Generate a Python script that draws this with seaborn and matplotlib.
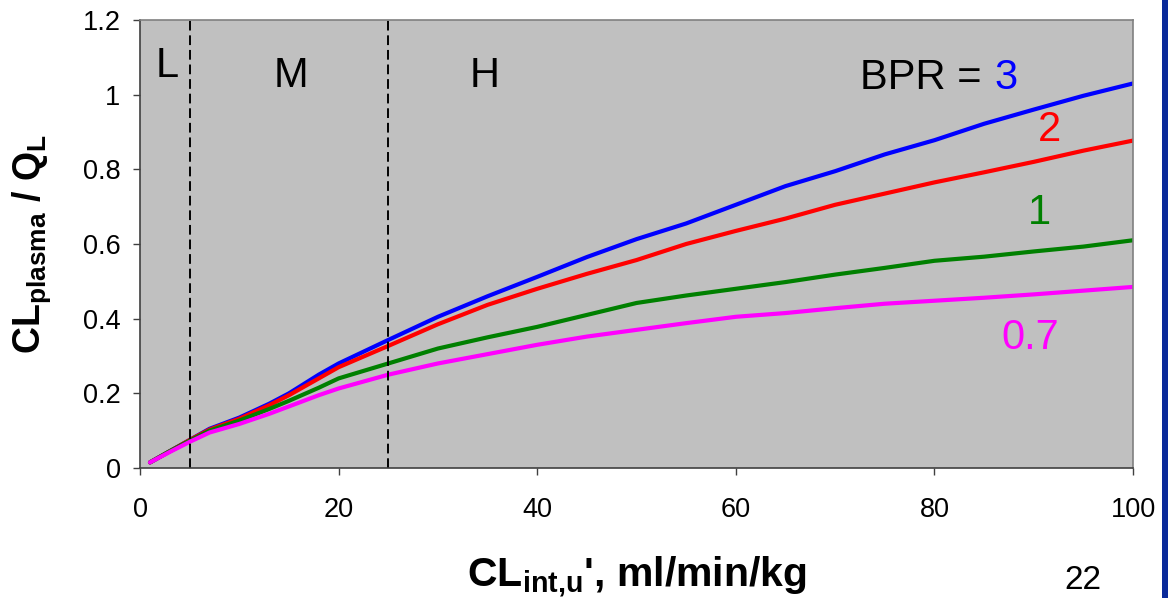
import numpy as np
import pandas as pd
import matplotlib
matplotlib.use("Agg")
import matplotlib.pyplot as plt
import seaborn as sns
from matplotlib.patches import Rectangle

x_vals = [1, 3, 5, 7, 10, 13, 15, 18, 20, 25, 30, 35, 40, 45, 50, 55, 60, 65, 70, 75, 80, 85, 90, 95, 100]
bpr3 = [0.015, 0.045, 0.075, 0.105, 0.135, 0.172, 0.200, 0.250, 0.280, 0.343, 0.405, 0.460, 0.512, 0.565, 0.613, 0.655, 0.705, 0.755, 0.795, 0.840, 0.878, 0.922, 0.960, 0.997, 1.030]
bpr2 = [0.015, 0.045, 0.075, 0.103, 0.132, 0.168, 0.195, 0.240, 0.270, 0.327, 0.385, 0.437, 0.480, 0.520, 0.557, 0.600, 0.635, 0.668, 0.705, 0.735, 0.765, 0.792, 0.820, 0.850, 0.877]
bpr1 = [0.015, 0.045, 0.073, 0.100, 0.127, 0.158, 0.180, 0.215, 0.240, 0.280, 0.320, 0.350, 0.378, 0.410, 0.442, 0.462, 0.480, 0.498, 0.518, 0.536, 0.555, 0.566, 0.580, 0.593, 0.610]
bpr07 = [0.015, 0.043, 0.070, 0.095, 0.118, 0.145, 0.165, 0.195, 0.213, 0.250, 0.280, 0.305, 0.330, 0.352, 0.370, 0.388, 0.405, 0.415, 0.428, 0.440, 0.448, 0.456, 0.465, 0.475, 0.485]
series_names = ["3", "2", "1", "0.7"]
series_colors = ["#0000FF", "#FF0000", "#008000", "#FF00FF"]
x_ticks = [0, 20, 40, 60, 80, 100]
y_ticks = [0, 0.2, 0.4, 0.6, 0.8, 1.0, 1.2]
y_tick_labels = ["0", "0.2", "0.4", "0.6", "0.8", "1", "1.2"]
region_bounds = [5, 25]
region_labels = ["L", "M", "H"]

sns.set_style("white")
plt.rcParams["font.family"] = ["Liberation Sans", "DejaVu Sans"]
plt.rcParams["text.color"] = "black"
plt.rcParams["mathtext.fontset"] = "custom"
plt.rcParams["mathtext.rm"] = "Liberation Sans:bold"
plt.rcParams["mathtext.bf"] = "Liberation Sans:bold"
plt.rcParams["mathtext.it"] = "Liberation Sans:bold"

df = pd.DataFrame({
    "x": x_vals * 4,
    "y": bpr3 + bpr2 + bpr1 + bpr07,
    "BPR": sum([[n] * len(x_vals) for n in series_names], []),
})

fig = plt.figure(figsize=(11.68, 5.98), dpi=100)
ax = fig.add_axes([0.1199, 0.2174, 0.8502, 0.7492])
ax.set_facecolor("#C0C0C0")

sns.lineplot(data=df, x="x", y="y", hue="BPR", hue_order=series_names,
             palette=dict(zip(series_names, series_colors)), linewidth=3,
             legend=False, ax=ax, estimator=None, sort=True)

for b in region_bounds:
    ax.axvline(b, color="black", linewidth=1.4, linestyle=(0, (5, 2.5)))

ax.set_xlim(0, 100)
ax.set_ylim(0, 1.2)
ax.set_xticks(x_ticks)
ax.set_yticks(y_ticks)
ax.set_yticklabels(y_tick_labels)
ax.tick_params(axis="both", bottom=True, left=True, length=5, width=1, color="#404040",
               labelcolor="black", direction="out")
ax.tick_params(axis="x", pad=16)
ax.tick_params(axis="y", pad=9)
for lab in ax.get_xticklabels() + ax.get_yticklabels():
    lab.set_fontsize(19.5)
    lab.set_color("black")
for s in ["top", "right"]:
    ax.spines[s].set_color("#808080")
    ax.spines[s].set_linewidth(1.2)
for s in ["left", "bottom"]:
    ax.spines[s].set_color("#404040")
    ax.spines[s].set_linewidth(1.2)

ax.set_xlabel("")
ax.set_ylabel("")
fig.text(0.0274, 0.5917, r"$\mathrm{CL_{plasma}}$ / $\mathrm{Q_L}$", rotation=90,
         ha="center", va="center", fontsize=27, fontweight="bold")
fig.text(0.545, 0.035, r"$\mathrm{CL_{int{,}u}}$', ml/min/kg", ha="center", va="center",
         fontsize=29.5, fontweight="bold")
fig.text(0.927, 0.030, "22", ha="center", va="center", fontsize=24)

label_x = [2.7, 15.2, 34.7]
label_y = [1.077, 1.051, 1.051]
for t, lx, ly in zip(region_labels, label_x, label_y):
    ax.text(lx, ly, t, ha="center", va="center", fontsize=30)

ax.text(85.9, 1.045, "BPR = ", ha="right", va="center", fontsize=30)
ax.text(86.0, 1.045, "3", ha="left", va="center", fontsize=30, color=series_colors[0])
ax.text(91.6, 0.905, "2", ha="center", va="center", fontsize=30, color=series_colors[1])
ax.text(90.6, 0.683, "1", ha="center", va="center", fontsize=30, color=series_colors[2])
ax.text(89.6, 0.348, "0.7", ha="center", va="center", fontsize=30, color=series_colors[3])

fig.patches.append(Rectangle((1162 / 1168, 0), 6 / 1168, 1, transform=fig.transFigure,
                             facecolor="#0A2A9A", edgecolor="none"))

fig.savefig("out.png", dpi=100)
